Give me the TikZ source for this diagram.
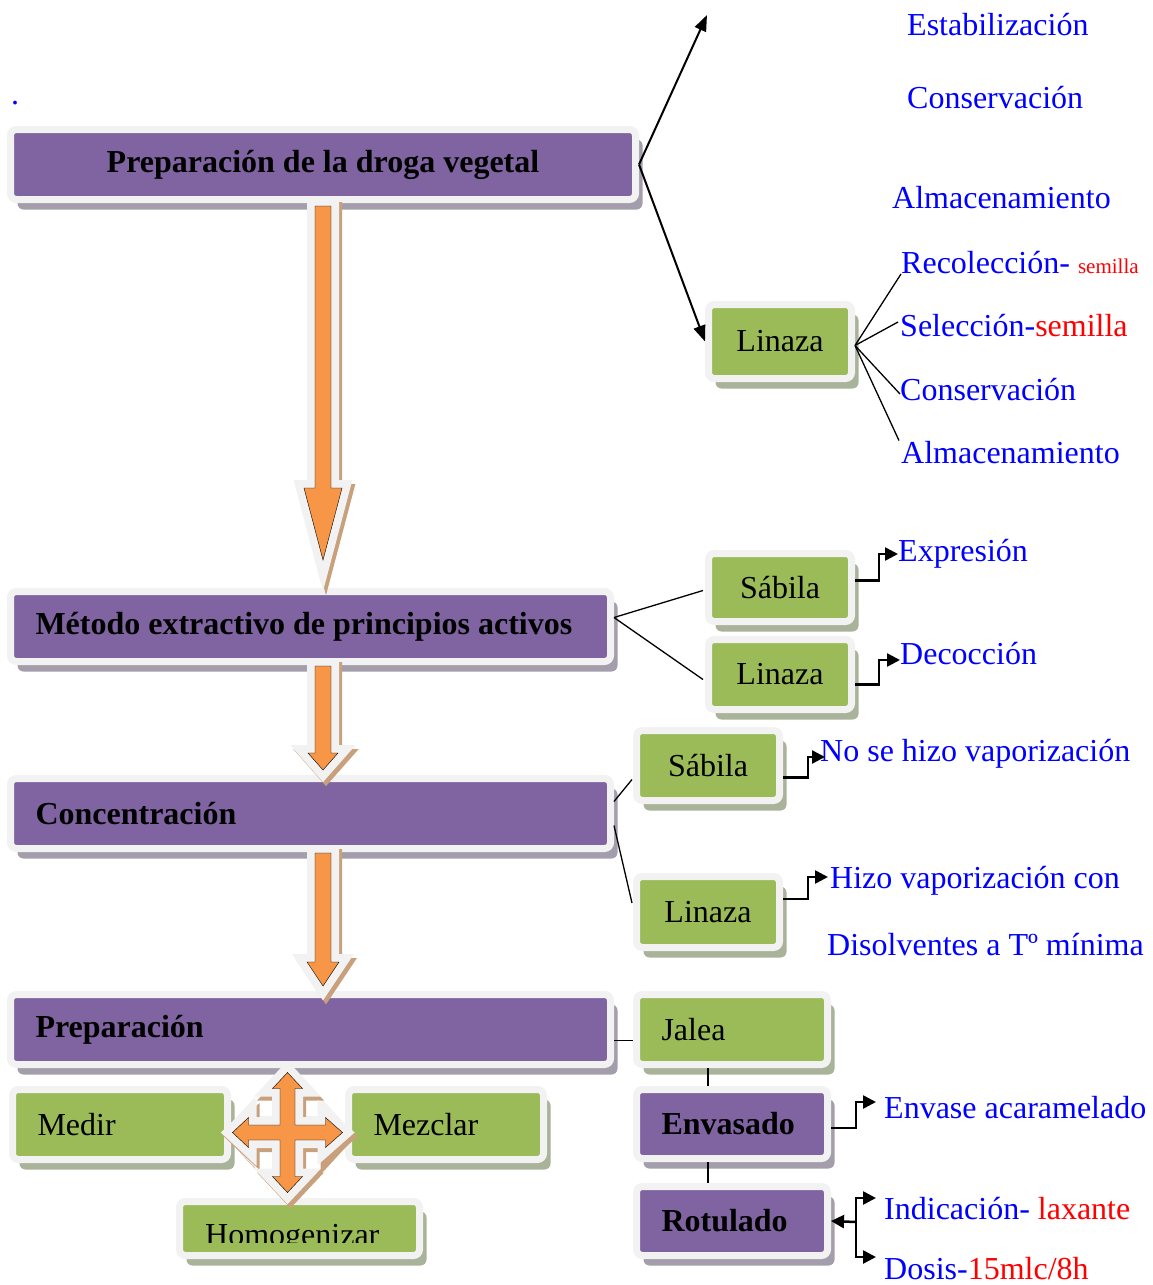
\documentclass[tikz,border=0pt]{standalone}
\usepackage{fontspec}
\setmainfont{Liberation Serif}
\usetikzlibrary{positioning,shadows,calc,arrows.meta}

\definecolor{boxpurple}{HTML}{8064A2}
\definecolor{boxgreen}{HTML}{9BBB59}
\definecolor{arroworange}{HTML}{F79646}
\definecolor{framegray}{HTML}{F2F2F2}
\definecolor{shadowpurple}{HTML}{A39DAC}
\definecolor{shadowgreen}{HTML}{A9B39A}
\definecolor{shadowtan}{HTML}{C9A07C}

\newcommand{\bigfont}{\fontsize{32}{38}\selectfont}
\newcommand{\smallred}{\color{red}\fontsize{21}{25}\selectfont}

\tikzset{
  box/.style={rectangle, rounded corners=6pt, draw=framegray, line width=7pt,
    inner sep=0pt, inner xsep=25pt, font=\bigfont, text=black},
  purplebox/.style={box, fill=boxpurple, font=\bigfont\bfseries,
    drop shadow={shadow xshift=7pt, shadow yshift=-10pt, fill=shadowpurple, opacity=1}},
  greenbox/.style={box, fill=boxgreen,
    drop shadow={shadow xshift=7pt, shadow yshift=-10pt, fill=shadowgreen, opacity=1}},
  bluetext/.style={anchor=west, inner sep=0pt, text=blue, font=\bigfont},
  link/.style={black, line width=1.3pt},
  ptr/.style={black, line width=2pt, -{Triangle[length=16pt,width=12pt]}},
  elbow/.style={black, line width=2.5pt, -{Triangle[length=13pt,width=13pt]}},
  bigarrow/.style={fill=arroworange, line join=miter,
    preaction={draw=shadowtan, fill=shadowtan, line width=16pt, line join=miter,
      transform canvas={shift={(3pt,-4pt)}}},
    preaction={draw=framegray, line width=16pt, line join=miter}}
}

\begin{document}
\begin{tikzpicture}[x=1pt, y=-1pt]
  \useasboundingbox (0,0) rectangle (1152,1285);
  \fill[white] (0,0) rectangle (1152,1285);

  % Main steps
  \node[purplebox, minimum width=625pt, minimum height=70pt] (P1) at (323,164.5)
    {Preparación de la droga vegetal};
  \node[purplebox, minimum width=600pt, minimum height=70pt] (P2) at (310.5,626.5)
    {\makebox[550pt][l]{Método extractivo de principios activos}};
  \node[purplebox, minimum width=600pt, minimum height=70pt] (P3) at (310.5,813.5)
    {\makebox[550pt][l]{Concentración}};
  \node[purplebox, minimum width=600pt, minimum height=70pt] (P4) at (310.5,1029.5)
    {\makebox[550pt][l]{Preparación}};

  % Down arrows between the steps
  \foreach \top/\base/\half/\tip in {206/488/19/560, 666/753/15/770, 853/962/16/986} {
    \draw[bigarrow] (315,\top) -- (331,\top) -- (331,\base) -- (323+\half,\base)
      -- (323,\tip) -- (323-\half,\base) -- (315,\base) -- cycle;
  }

  % Plants
  \node[greenbox, minimum width=143pt, minimum height=74pt] (linT) at (780,341.5) {Linaza};
  \node[greenbox, minimum width=143pt, minimum height=68pt] (sabM) at (780,587.5) {Sábila};
  \node[greenbox, minimum width=143pt, minimum height=70pt] (linM) at (780,674.5) {Linaza};
  \node[greenbox, minimum width=143pt, minimum height=70pt] (sabC) at (708,765.5) {Sábila};
  \node[greenbox, minimum width=143pt, minimum height=71pt] (linC) at (708,912) {Linaza};

  % Product
  \node[greenbox, minimum width=191pt, minimum height=70pt] (jalea) at (732,1029.5)
    {\makebox[141pt][l]{Jalea}};
  \node[purplebox, minimum width=191pt, minimum height=69pt] (env) at (732,1124)
    {\makebox[141pt][l]{Envasado}};
  \node[purplebox, minimum width=191pt, minimum height=69pt] (rot) at (732,1221)
    {\makebox[141pt][l]{Rotulado}};

  % Preparation tasks
  \node[greenbox, minimum width=215pt, minimum height=70pt] (medir) at (120,1124.5)
    {\makebox[165pt][l]{Medir}};
  \node[greenbox, minimum width=195pt, minimum height=70pt] (mezclar) at (446,1124.5)
    {\makebox[145pt][l]{Mezclar}};
  \node[greenbox, minimum width=240pt, minimum height=54pt] (homog) at (299.5,1228.5) {};
  \begin{scope}
    \clip (180,1200) rectangle (420,1242);
    \node[anchor=base west, inner sep=0pt, font=\bigfont] (homogtext) at (205,1245) {Homogenizar};
  \end{scope}

  % Four way arrow
  \begin{scope}[shift={(287.5,1132.5)}]
    \fill[framegray, preaction={fill=shadowtan, transform canvas={shift={(3pt,-4pt)}}}]
      (-65,0) -- (0,-71) -- (65,0) -- (0,71) -- cycle;
    \foreach \sx/\sy in {1/1, 1/-1, -1/1, -1/-1} {
      \fill[white] (16*\sx,17*\sy) rectangle (33*\sx,36*\sy);
    }
    \draw[bigarrow] (0,-60) -- (15,-44) -- (7.5,-44) -- (7.5,-7.5) -- (38,-7.5) -- (38,-15)
      -- (55,0) -- (38,15) -- (38,7.5) -- (7.5,7.5) -- (7.5,44) -- (15,44) -- (0,60) -- (-15,44)
      -- (-7.5,44) -- (-7.5,7.5) -- (-39,7.5) -- (-39,15) -- (-55,0) -- (-39,-15) -- (-39,-7.5)
      -- (-7.5,-7.5) -- (-7.5,-44) -- (-15,-44) -- cycle;
  \end{scope}

  % Blue notes
  \node[bluetext] (dot) at (11,103) {.};
  \node[bluetext] (estab) at (907,25) {Estabilización};
  \node[bluetext] (consA) at (907,98) {Conservación};
  \node[bluetext] (almA) at (892,198) {Almacenamiento};
  \node[bluetext] (rec) at (901,263) {Recolección- {\smallred semilla}};
  \node[bluetext] (sel) at (900,326) {Selección-{\color{red}semilla}};
  \node[bluetext] (consB) at (900,390) {Conservación};
  \node[bluetext] (almB) at (901,453) {Almacenamiento};
  \node[bluetext] (expr) at (898,554) {Expresión};
  \node[bluetext] (dec) at (900,654) {Decocción};
  \node[bluetext] (novap) at (820,754) {No se hizo vaporización};
  \node[bluetext] (vap) at (830,881) {Hizo vaporización con};
  \node[bluetext] (disol) at (827,945) {Disolventes a Tº mínima};
  \node[bluetext] (envase) at (884,1108) {Envase acaramelado};
  \node[bluetext] (indic) at (884,1209) {Indicación- {\color{red}laxante}};
  \node[bluetext] (dosis) at (884,1269) {Dosis-{\color{red}15mlc/8h}};

  % Connectors
  \coordinate (topend) at (707,15);
  \draw[ptr] (P1.east) -- (topend);
  \draw[ptr] (P1.east) -- (linT.west);

  \coordinate (linTout) at ($(linT.east)+(0,4)$);
  \draw[link] (linTout) -- (rec.base west);
  \draw[link] (linTout) -- ($(sel.west)+(-2,-4)$);
  \draw[link] (linTout) -- ($(consB.west)+(0,4)$);
  \draw[link] (linTout) -- ($(almB.north west)+(-2,-1)$);

  \coordinate (P2out) at ($(P2.east)+(0,-9)$);
  \draw[link] (P2out) -- ($(sabM.west)+(-2,3)$);
  \draw[link] (P2out) -- ($(linM.west)+(-2,5)$);
  \draw[elbow] ($(sabM.east)+(0,-7)$) -- ++(24,0) |- (expr.west);
  \draw[elbow] ($(linM.east)+(0,10)$) -- ++(24,0) |- ($(dec.west)+(0,6)$);

  \draw[link] ($(P3.east)+(0,-12)$) -- ($(sabC.west)+(-1,14)$);
  \draw[link] ($(P3.east)+(0,12)$) -- ($(linC.west)+(-1,-9)$);
  \draw[elbow] ($(sabC.east)+(0,12)$) -- ++(25,0) |- ($(novap.west)+(5,3)$);
  \draw[elbow] ($(linC.east)+(0,-13)$) -- ++(25,0) |- ($(vap.west)+(-2,-4)$);

  \draw[link] ($(P4.east)+(0,11)$) -- ($(jalea.west)+(0,11)$);
  \draw[link] ($(jalea.south)+(-24,0)$) -- ($(env.north)+(-24,0)$);
  \draw[link] ($(env.south)+(-24,0)$) -- ($(rot.north)+(-24,0)$);
  \draw[elbow] ($(env.east)+(0,4)$) -- ++(25,0) |- ($(envase.west)+(-8,-6)$);

  \coordinate (fork) at ($(rot.east)+(25,1)$);
  \draw[elbow] (fork) -- (rot.east);
  \draw[elbow] (fork) |- ($(indic.west)+(-8,-11)$);
  \draw[elbow] (fork) |- ($(dosis.west)+(-8,-12)$);
\end{tikzpicture}
\end{document}
